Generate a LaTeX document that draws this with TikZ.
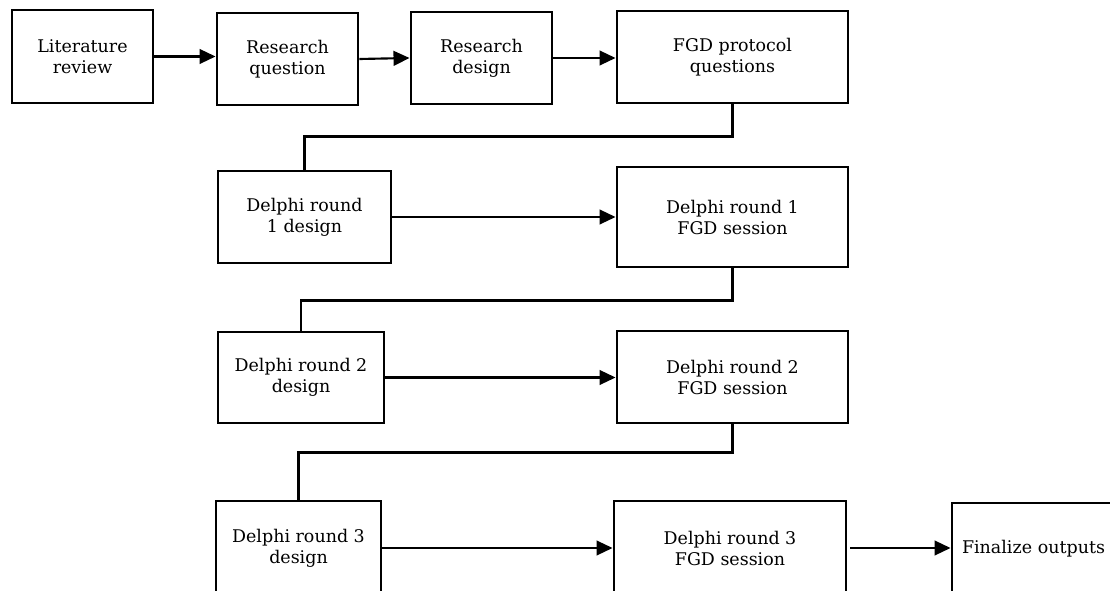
\documentclass[tikz,border=0pt]{standalone}
\usepackage{fontspec}
\setmainfont{DejaVu Serif}
\usetikzlibrary{arrows.meta}
\newdimen\pxu
\pxu=0.75pt
\begin{document}
\begin{tikzpicture}[x=0.75pt,y=-0.75pt,
  stepbox/.style={draw=black, line width=2.2pt, rectangle, align=center, inner sep=2pt,
    font=\fontsize{13.1pt}{15.75pt}\selectfont},
  conn/.style={draw=black, line width=1.6pt},
  arr/.style={conn, -{Triangle[length=12pt,width=11pt]}}]
\useasboundingbox (0,0) rectangle (1110,591);
\fill[white] (0,0) rectangle (1110,591);
\clip (0,0) rectangle (1110,591);

\node[stepbox, minimum width=141\pxu, minimum height=93\pxu] (lit) at (82.5,56.5) {Literature\\review};
\node[stepbox, minimum width=141\pxu, minimum height=92\pxu] (rq) at (287.5,59) {Research\\question};
\node[stepbox, minimum width=141\pxu, minimum height=92\pxu] (rd) at (481.5,58) {Research\\design};
\node[stepbox, minimum width=231\pxu, minimum height=92\pxu] (fgd) at (732.5,57) {FGD protocol\\questions};

\node[stepbox, minimum width=173\pxu, minimum height=92\pxu] (d1d) at (304.5,217) {Delphi round\\1 design};
\node[stepbox, minimum width=231\pxu, minimum height=100\pxu] (d1f) at (732.5,217) {Delphi round 1\\FGD session};

\node[stepbox, minimum width=166\pxu, minimum height=91\pxu] (d2d) at (301,377.5) {Delphi round 2\\design};
\node[stepbox, minimum width=231\pxu, minimum height=92\pxu] (d2f) at (732.5,377) {Delphi round 2\\FGD session};

\node[stepbox, minimum width=165\pxu, minimum height=94\pxu] (d3d) at (298.5,548) {Delphi round 3\\design};
\node[stepbox, minimum width=232\pxu, minimum height=94\pxu] (d3f) at (730,548) {Delphi round 3\\FGD session};
\node[stepbox, minimum width=248\pxu, minimum height=92\pxu, text width=228\pxu, align=left, inner xsep=10\pxu] (fin) at (1076,549) {Finalize outputs};

\draw[arr] (lit.east) -- (lit.east -| rq.west);
\draw[arr] (rq.east) -- (rd.west);
\draw[arr] (rd.east) -- (rd.east -| fgd.west);

\draw[conn] (fgd.south) -- ++(0,32) -| (d1d.north);
\draw[arr] (d1d.east) -- (d1d.east -| d1f.west);

\draw[conn] (d1f.south) -- ++(0,32) -| (d2d.north);
\draw[arr] (d2d.east) -- (d2d.east -| d2f.west);

\draw[conn] (d2f.south) -- ++(0,28) -| (d3d.north);
\draw[arr] (d3d.east) -- (d3d.east -| d3f.west);
\draw[arr] ([xshift=3\pxu]d3f.east) -- (d3f.east -| fin.west);
\end{tikzpicture}
\end{document}
